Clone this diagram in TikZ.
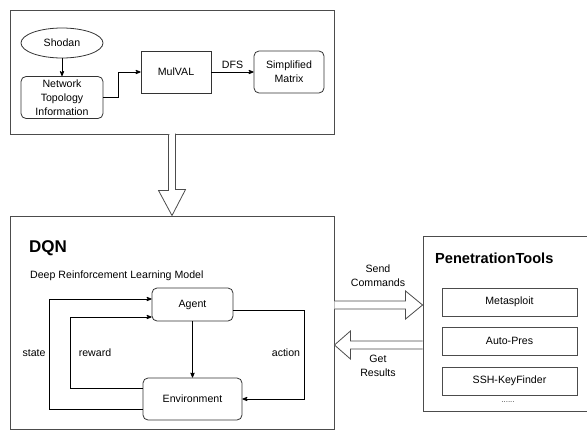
\documentclass[tikz,border=0pt]{standalone}
\usepackage{fontspec}
\setmainfont{Liberation Sans}
\usetikzlibrary{calc}
\usetikzlibrary{positioning}
\usetikzlibrary{shapes.geometric}
\usetikzlibrary{arrows}
\tikzset{
	>=stealth',
	frame/.style={
		rectangle,
		draw=black!70, line width=0.9pt,
		inner sep=0pt},
	roundbox/.style={
		rectangle,
		rounded corners=5pt,
		draw=black!80, line width=0.8pt,
		align=center,
		inner sep=1pt},
	squarebox/.style={
		rectangle,
		draw=black!80, line width=0.8pt,
		align=center,
		inner sep=1pt},
	toolbox/.style={
		rectangle,
		draw=black!70, line width=0.8pt,
		minimum width=135pt, minimum height=28pt},
	line/.style={draw, line width=0.8pt, ->},
	hollow/.style={draw=black!70, line width=0.8pt, fill=white, line join=miter},
	lbl/.style={inner sep=0pt, align=center},
}

\begin{document}
\begin{tikzpicture}
	[x=1pt, y=-1pt,
	font=\fontsize{10.6}{14}\selectfont]
	\useasboundingbox (0,0) rectangle (587,431);
	\clip (0,0) rectangle (587,431);
	
	% preprocessing
	\node[frame, minimum width=324pt, minimum height=124pt] (prep) at (172,72) {};
	\node[ellipse, draw=black!80, line width=0.8pt, minimum width=82pt, minimum height=30pt, inner sep=0pt] (shodan) at (62,43) {Shodan};
	\node[roundbox, minimum width=82pt, minimum height=42pt] (topo) at (62,97.5) {Network\\Topology\\Information};
	\node[squarebox, minimum width=70pt, minimum height=42pt] (mulval) at (176,72) {MulVAL};
	\node[roundbox, minimum width=70pt, minimum height=42pt] (simp) at (289,72) {Simplified\\Matrix};
	\draw[line] (shodan) -- (topo);
	\draw[line] (topo.east) -- ++(15,0) |- (mulval.west);
	\draw[line] (mulval) -- node[above] (dfs) {DFS} (simp);
	
	% DQN
	\node[frame, minimum width=324pt, minimum height=213pt] (dqn) at (172,322.5) {};
	\node[lbl, anchor=west, font=\fontsize{17}{17}\selectfont\bfseries] (dqntitle) at (29,248) {DQN};
	\node[lbl, anchor=west] (drl) at (30,276) {Deep Reinforcement Learning Model};
	\node[roundbox, minimum width=81pt, minimum height=33pt] (agent) at (192.5,304.5) {Agent};
	\node[roundbox, minimum width=99pt, minimum height=42pt] (env) at (192.5,399) {Environment};
	\draw[line] (agent) -- (env);
	\draw[line] ($(env.west)+(0,10)$) -- ++(-93,0) |- ($(agent.west)+(0,-5.5)$);
	\draw[line] ($(env.west)+(0,-11)$) -- ++(-72,0) |- ($(agent.west)+(0,12.5)$);
	\draw[line] ($(agent.east)+(0,5.5)$) -- ++(71,0) |- (env.east);
	\node[lbl] (state) at (34,353) {state};
	\node[lbl] (reward) at (95,353) {reward};
	\node[lbl] (action) at (286,353) {action};
	
	% tools
	\node[frame, minimum width=177pt, minimum height=175pt] (pen) at (511.5,323.5) {};
	\node[lbl, anchor=west, font=\fontsize{14.6}{15}\selectfont\bfseries] (pentitle) at (435,258) {PenetrationTools};
	\node[toolbox] (msf) at (509.5,302) {Metasploit};
	\node[toolbox] (autop) at (509.5,341) {Auto-Pres};
	\node[toolbox] (sshkf) at (509.5,381) {SSH-KeyFinder};
	\node[lbl, font=\fontsize{8}{8}\selectfont, text=black!75] (more) at (508,402) {......};
	
	% big arrows
	\draw[hollow] ($(prep.south)+(-3.5,0)$) -- ++(0,56) -- ++(-10,0) -- (dqn.north) -- ++(13.5,-26) -- ++(-10,0) -- ++(0,-56);
	\path (dqn.east |- 0,305) coordinate (sendA) (pen.west |- 0,305) coordinate (sendB);
	\draw[hollow] ($(sendA)+(0,-4)$) -- ($(sendB)+(-17,-4)$) -- ($(sendB)+(-17,-14)$) -- (sendB) -- ($(sendB)+(-17,14)$) -- ($(sendB)+(-17,4)$) -- ($(sendA)+(0,4)$);
	\path (dqn.east |- 0,345) coordinate (getA) (pen.west |- 0,345) coordinate (getB);
	\draw[hollow] ($(getB)+(0,-4)$) -- ($(getA)+(16,-4)$) -- ($(getA)+(16,-14)$) -- (getA) -- ($(getA)+(16,14)$) -- ($(getA)+(16,4)$) -- ($(getB)+(0,4)$);
	\node[lbl] (send) at (378,276) {Send\\Commands};
	\node[lbl] (get) at (378,366) {Get\\Results};
	
\end{tikzpicture}
\end{document}
